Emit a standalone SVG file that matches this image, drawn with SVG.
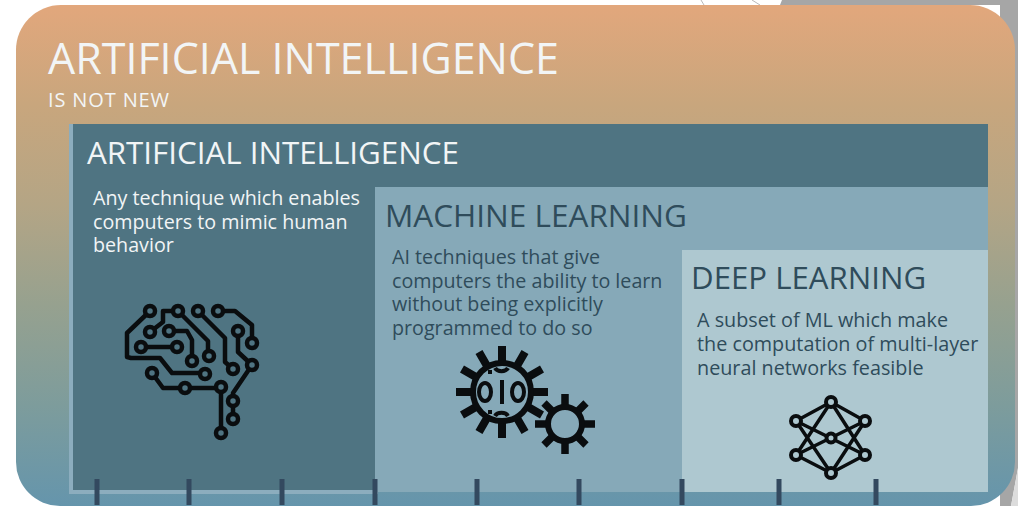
<svg xmlns="http://www.w3.org/2000/svg" width="1018" height="506" viewBox="0 0 1018 506">
<defs>
<linearGradient id="bg" x1="0" y1="0" x2="0" y2="1">
<stop offset="0" stop-color="#e2a77c"/><stop offset="0.2" stop-color="#c8a67d"/><stop offset="0.4" stop-color="#b4a585"/><stop offset="0.6" stop-color="#96a18f"/><stop offset="0.8" stop-color="#7d9c9c"/><stop offset="1" stop-color="#6595ac"/>
</linearGradient>
</defs>
<style>
text{font-family:"Open Sans","Liberation Sans",sans-serif}
.w{fill:#f2f5f6}.d{fill:#2f4c5b}
.ic{fill:none;stroke:#0a0d0f;stroke-linejoin:round;stroke-linecap:round}
.t{stroke:#33495f;stroke-width:5}
</style>
<rect width="1018" height="506" fill="#ffffff"/>
<path d="M782 0H1018V468L1011 506H1000V5H780Z" fill="#a6a6a6"/>
<path d="M701 0L704 5M752 0L760 5" stroke="#b9b9b9" fill="none"/>
<path d="M1018 468V506H1011Z" fill="#dcdcdc"/>
<path id="card" d="M61 5H970A45 45 0 0 1 1015 50V462A44 44 0 0 1 971 506H60A44 44 0 0 1 16 462V50A45 45 0 0 1 61 5Z" fill="url(#bg)"/>
<g id="ai-panel">
<rect x="69" y="124" width="309" height="370" fill="#8cadbe"/>
<rect x="73" y="124" width="915" height="366" fill="#4f7482"/>
<text class="w" x="87" y="164" font-size="31.300">ARTIFICIAL INTELLIGENCE</text>
<text class="w" font-size="19.700"><tspan x="93" y="205">Any technique which enables</tspan><tspan x="93" y="229">computers to mimic human</tspan><tspan x="93" y="252">behavior</tspan></text>
<g class="ic" stroke-width="4.500">
<path d="M150 311L127 333V357L131 358H160L172 373H205M178 311H163V322L150 332M178 311L208 341V356M169 331H187L192 340V361M141 347H177M198 311L225 338V362L233 369M218 311H235L252 325V343M238 331V352L252 365L233 393V419M152 373L163 388H221V433"/>
<g fill="#4f7482"><circle cx="150" cy="311" r="5"/><circle cx="178" cy="311" r="5"/><circle cx="198" cy="311" r="5"/><circle cx="218" cy="311" r="5"/><circle cx="150" cy="332" r="5"/><circle cx="169" cy="331" r="5"/><circle cx="141" cy="347" r="5"/><circle cx="177" cy="347" r="5"/><circle cx="238" cy="331" r="5"/><circle cx="252" cy="343" r="5"/><circle cx="192" cy="361" r="5"/><circle cx="209" cy="356" r="5"/><circle cx="233" cy="369" r="5"/><circle cx="252" cy="365" r="5"/><circle cx="205" cy="374" r="5"/><circle cx="152" cy="373" r="5"/><circle cx="185" cy="388" r="5"/><circle cx="221" cy="387" r="5"/><circle cx="233" cy="401" r="5"/><circle cx="233" cy="419" r="5"/><circle cx="221" cy="433" r="5"/></g>
</g>
</g>
<g id="ml-panel">
<rect x="375" y="187" width="613" height="305" fill="#86a9b8"/>
<text class="d" x="385" y="227" font-size="31.500">MACHINE LEARNING</text>
<text class="d" font-size="19.700"><tspan x="392" y="264">AI techniques that give</tspan><tspan x="392" y="288">computers the ability to learn</tspan><tspan x="392" y="311">without being explicitly</tspan><tspan x="392" y="335">programmed to do so</tspan></text>
<g class="ic" style="stroke-linecap:butt">
<path stroke-width="8" d="M502 346v92M456 392h92M479 352l46 80M462 369l80 46M462 415l80-46M479 432l46-80"/>
<circle cx="502" cy="392" r="29" fill="#86a9b8" stroke-width="6"/>
<g stroke-width="4"><ellipse cx="485" cy="392" rx="6" ry="9"/><ellipse cx="518" cy="392" rx="6" ry="9"/><path d="M502 380V404M495 368a7 5 0 0 0 13 0M495 416a7 5 0 0 1 13 0M490 370v4M490 410v4"/></g>
<path stroke-width="7.500" d="M565 394v60M535 424h60M544 403l42 42M544 445l42-42"/>
<circle cx="565" cy="424" r="17" fill="#86a9b8" stroke-width="6"/>
</g>
</g>
<g id="dl-panel">
<rect x="682" y="250" width="306" height="242" fill="#aec8d0"/>
<text class="d" x="691" y="289" font-size="31.200">DEEP LEARNING</text>
<text class="d" font-size="19.800"><tspan x="697" y="327">A subset of ML which make</tspan><tspan x="697" y="351">the computation of multi-layer</tspan><tspan x="697" y="375">neural networks feasible</tspan></text>
<g class="ic" stroke-width="3.500">
<path d="M796 421L831 402L865 421M796 455L831 473L865 455M831 402L796 455M831 402L865 455M831 473L796 421M831 473L865 421M796 421L865 455M865 421L796 455"/>
<g fill="#aec8d0" stroke-width="4"><circle cx="831" cy="402" r="5"/><circle cx="796" cy="421" r="5"/><circle cx="865" cy="421" r="5"/><circle cx="796" cy="455" r="5"/><circle cx="865" cy="455" r="5"/><circle cx="831" cy="473" r="5"/><circle cx="831" cy="438" r="4.500"/></g>
</g>
</g>
<g id="title">
<text class="w" x="48" y="74" font-size="43">ARTIFICIAL INTELLIGENCE</text>
<text class="w" x="48" y="107" font-size="20" textLength="121" lengthAdjust="spacing">IS NOT NEW</text>
</g>
<g id="connectors">
<path class="t" d="M97 479V505M189 479V505M282 479V505M375 479V505M477 479V505M579 479V505M682 479V505M779 479V505M876 479V505"/>
</g>
</svg>
